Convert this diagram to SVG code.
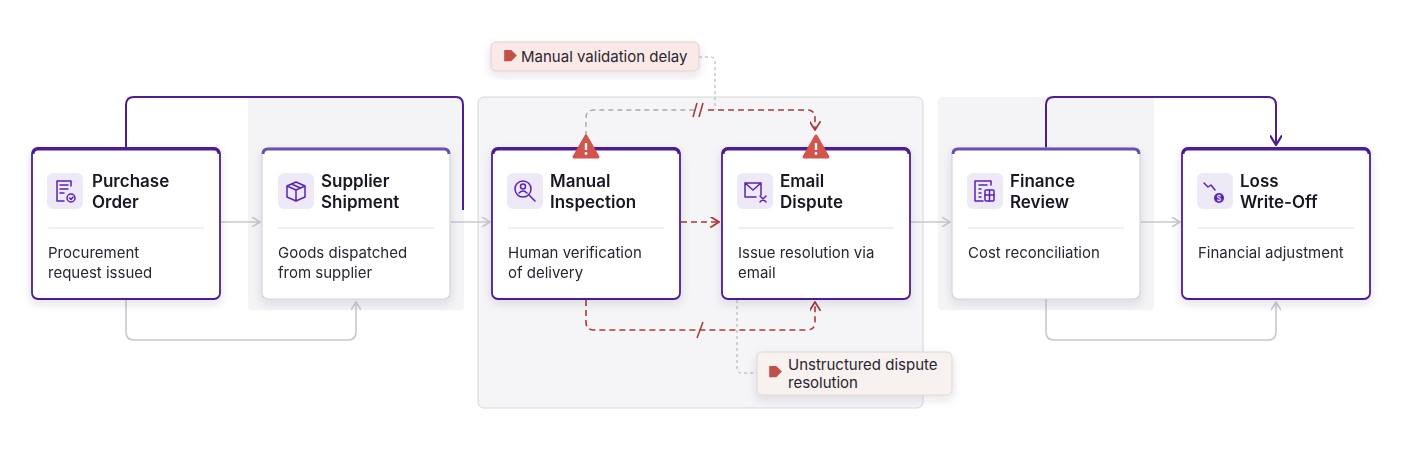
<svg xmlns="http://www.w3.org/2000/svg" width="1404" height="450" viewBox="0 0 1404 450">
<defs>
<style>
text{font-family:Inter,"Liberation Sans",sans-serif;fill:#1a1523}
.t{font-size:17px;font-weight:600}
.d{font-size:15px;fill:#2a2530}
.lb{font-size:15px;fill:#2a2530}
.card{fill:#fff}
.hot{stroke:#4c1d95;stroke-width:1.8}
.cold{stroke:#d4d2d8;stroke-width:1.2}
.sep{stroke:#e2e0e6;stroke-width:1}
.ib{fill:#ede9f6}
.ic{fill:none;stroke:#5b21b6;stroke-width:1.5;stroke-linecap:round;stroke-linejoin:round}
.g{fill:none;stroke:#c9c7cd;stroke-width:1.6}
.p{fill:none;stroke:#4c1d95;stroke-width:2}
.r{fill:none;stroke:#a83a3a;stroke-width:1.6;stroke-dasharray:6 4}
.rg{fill:none;stroke:#a9a9ad;stroke-width:1.4;stroke-dasharray:5 4}
.lt{fill:none;stroke:#a9a9ad;stroke-width:1;stroke-dasharray:3 3}
</style>
<marker id="ag" viewBox="0 0 10 10" refX="9" refY="5" markerWidth="10" markerHeight="10" markerUnits="userSpaceOnUse" orient="auto"><path d="M1 0L9 5L1 10" fill="none" stroke="#c9c7cd" stroke-width="1.6"/></marker>
<marker id="ap" viewBox="0 0 10 10" refX="9" refY="5" markerWidth="12" markerHeight="12" markerUnits="userSpaceOnUse" orient="auto"><path d="M1 0L9 5L1 10" fill="none" stroke="#4c1d95" stroke-width="1.8"/></marker>
<marker id="ar" viewBox="0 0 10 10" refX="9" refY="5" markerWidth="11" markerHeight="11" markerUnits="userSpaceOnUse" orient="auto"><path d="M1 0L9 5L1 10" fill="none" stroke="#a83a3a" stroke-width="1.6"/></marker>
<filter id="sh" x="-20%" y="-20%" width="140%" height="150%"><feDropShadow dx="0" dy="4" stdDeviation="5" flood-color="#3b2a5a" flood-opacity="0.13"/></filter>
<g id="warn"><path d="M0 -12L12 9H-12Z" fill="#d2544c" stroke="#d2544c" stroke-width="3" stroke-linejoin="round"/><rect x="-1.2" y="-5" width="2.4" height="7" fill="#fff"/><circle cx="0" cy="5.5" r="1.4" fill="#fff"/></g>
<g id="tag"><path d="M-7 -3L-2 -8H6V0L1 5Z" fill="#c0504a" transform="rotate(45)"/></g>
</defs>

<g id="panels">
<rect x="248" y="97" width="216" height="213" rx="4" fill="#f4f4f6"/>
<rect x="478" y="97" width="445" height="311" rx="6" fill="#f5f5f7" stroke="#d6d5da"/>
<rect x="938" y="97" width="216" height="213" rx="4" fill="#f4f4f6"/>
</g>

<g id="connectors">
<path class="p" d="M126 148V105Q126 97 134 97H456Q463 97 463 105V210"/>
<path class="g" d="M126 299V332Q126 340 134 340H348Q356 340 356 332V302" marker-end="url(#ag)"/>
<path class="g" d="M221 222H260" marker-end="url(#ag)"/>
<path class="g" d="M451 222H490" marker-end="url(#ag)"/>
<path class="r" d="M681 222H719" marker-end="url(#ar)"/>
<path class="g" d="M911 222H950" marker-end="url(#ag)"/>
<path class="g" d="M1141 222H1180" marker-end="url(#ag)"/>
<path class="p" d="M1046 148V105Q1046 97 1054 97H1268Q1276 97 1276 105V145" marker-end="url(#ap)"/>
<path class="g" d="M1046 299V332Q1046 340 1054 340H1268Q1276 340 1276 332V302" marker-end="url(#ag)"/>
<path class="rg" d="M586 136V118Q586 110 594 110H694"/>
<path class="r" d="M708 110H807Q815 110 815 118V130" marker-end="url(#ar)"/>
<path d="M693 117L697 103M699 117L703 103" stroke="#a83a3a" stroke-width="1.6"/>
<path class="lt" d="M699 57H710Q715 57 715 62V110"/>
<path class="r" d="M586 300V322Q586 330 594 330H807Q815 330 815 322V302" marker-end="url(#ar)"/>
<path d="M697 338L703 322" stroke="#a83a3a" stroke-width="1.6"/>
<path class="lt" d="M737 300V368Q737 373 742 373H757"/>
</g>

<g id="n1" filter="url(#sh)">
<rect class="card hot" x="32" y="148" width="188" height="151" rx="6"/>
<path d="M33 154Q33 149 38 149H214Q219 149 219 154" fill="none" stroke="#4c1d95" stroke-width="3"/>
<rect class="ib" x="47" y="173" width="36" height="36" rx="6"/>
<path class="ic" d="M71 186V181H57V201H64M60 185H68M60 189H68M60 193H64"/><circle class="ic" cx="71" cy="198" r="4"/><path class="ic" d="M69.5 198L71 199.5L73 197"/>
<text class="t" x="92" y="187">Purchase</text><text class="t" x="92" y="208">Order</text>
<line class="sep" x1="48" y1="228" x2="204" y2="228"/>
<text class="d" x="48" y="258">Procurement</text><text class="d" x="48" y="278">request issued</text>
</g>

<g id="n2" filter="url(#sh)">
<rect class="card cold" x="262" y="148" width="188" height="151" rx="6"/>
<path d="M263 154Q263 149 268 149H444Q449 149 449 154" fill="none" stroke="#6d4fb0" stroke-width="3"/>
<rect class="ib" x="278" y="173" width="36" height="36" rx="6"/>
<path class="ic" d="M296 182L305 186V197L296 201L287 197V186ZM287 186L296 190L305 186M296 190V201M291.5 184L300.5 188"/>
<text class="t" x="321" y="187">Supplier</text><text class="t" x="321" y="208">Shipment</text>
<line class="sep" x1="278" y1="228" x2="434" y2="228"/>
<text class="d" x="278" y="258">Goods dispatched</text><text class="d" x="278" y="278">from supplier</text>
</g>

<g id="n3" filter="url(#sh)">
<rect class="card hot" x="492" y="148" width="188" height="151" rx="6"/>
<path d="M493 154Q493 149 498 149H674Q679 149 679 154" fill="none" stroke="#4c1d95" stroke-width="3"/>
<rect class="ib" x="507" y="173" width="36" height="36" rx="6"/>
<circle class="ic" cx="523" cy="189" r="8"/><circle class="ic" cx="523" cy="186.5" r="2.5"/><path class="ic" d="M519 193Q523 189 527 193M529 195L535 201"/>
<text class="t" x="550" y="187">Manual</text><text class="t" x="550" y="208">Inspection</text>
<line class="sep" x1="508" y1="228" x2="664" y2="228"/>
<text class="d" x="508" y="258">Human verification</text><text class="d" x="508" y="278">of delivery</text>
</g>

<g id="n4" filter="url(#sh)">
<rect class="card hot" x="722" y="148" width="188" height="151" rx="6"/>
<path d="M723 154Q723 149 728 149H904Q909 149 909 154" fill="none" stroke="#4c1d95" stroke-width="3"/>
<rect class="ib" x="737" y="173" width="36" height="36" rx="6"/>
<path class="ic" d="M761 195V183H745V197H756M745 183L753 190L761 183M760 196L766 202M766 196L760 202"/>
<text class="t" x="780" y="187">Email</text><text class="t" x="780" y="208">Dispute</text>
<line class="sep" x1="738" y1="228" x2="894" y2="228"/>
<text class="d" x="738" y="258">Issue resolution via</text><text class="d" x="738" y="278">email</text>
</g>

<g id="n5" filter="url(#sh)">
<rect class="card cold" x="952" y="148" width="188" height="151" rx="6"/>
<path d="M953 154Q953 149 958 149H1134Q1139 149 1139 154" fill="none" stroke="#6d4fb0" stroke-width="3"/>
<rect class="ib" x="967" y="173" width="36" height="36" rx="6"/>
<path class="ic" d="M991 185V181H975V201H983M979 185H987M979 189H981M979 193H981M979 197H981"/><rect class="ic" x="985" y="190" width="9" height="11" rx="1"/><path class="ic" d="M985 195H994M989.5 190V201"/>
<text class="t" x="1010" y="187">Finance</text><text class="t" x="1010" y="208">Review</text>
<line class="sep" x1="968" y1="228" x2="1124" y2="228"/>
<text class="d" x="968" y="258">Cost reconciliation</text>
</g>

<g id="n6" filter="url(#sh)">
<rect class="card hot" x="1182" y="148" width="188" height="151" rx="6"/>
<path d="M1183 154Q1183 149 1188 149H1364Q1369 149 1369 154" fill="none" stroke="#4c1d95" stroke-width="3"/>
<rect class="ib" x="1197" y="173" width="36" height="36" rx="6"/>
<path class="ic" d="M1204 183L1208 187L1211 185L1215 190"/><circle cx="1219" cy="198" r="5" fill="#5b21b6"/><text x="1219" y="201" font-size="8" text-anchor="middle" style="fill:#fff">$</text>
<text class="t" x="1240" y="187">Loss</text><text class="t" x="1240" y="208">Write-Off</text>
<line class="sep" x1="1198" y1="228" x2="1354" y2="228"/>
<text class="d" x="1198" y="258">Financial adjustment</text>
</g>

<g id="warnings">
<use href="#warn" x="586" y="148"/>
<use href="#warn" x="816" y="148"/>
</g>

<g id="label1">
<rect x="491" y="42" width="208" height="29" rx="5" fill="#fbe9e7" stroke="#e6cdca" filter="url(#sh)"/>
<use href="#tag" x="507" y="57"/>
<text class="lb" x="521" y="62">Manual validation delay</text>
</g>
<g id="label2">
<rect x="757" y="352" width="195" height="43" rx="5" fill="#f7f1ef" stroke="#e0d6d3" filter="url(#sh)"/>
<use href="#tag" x="772" y="373"/>
<text class="lb" x="788" y="370">Unstructured dispute</text>
<text class="lb" x="788" y="388">resolution</text>
</g>
</svg>
